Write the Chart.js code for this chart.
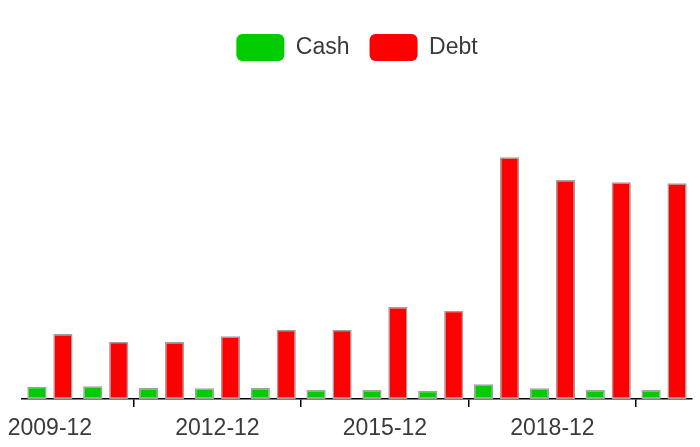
<!DOCTYPE html>
<html>
<head>
<meta charset="utf-8">
<script src="https://cdn.jsdelivr.net/npm/chart.js@4/dist/chart.umd.min.js"></script>
<style>
  html, body { margin: 0; padding: 0; background: #fff; }
  #wrap { width: 700px; height: 447px; position: relative; }
</style>
</head>
<body>
<div id="wrap"><canvas id="chart"></canvas></div>
<script>
const years = ["2009-12", "2010-12", "2011-12", "2012-12", "2013-12", "2014-12",
  "2015-12", "2016-12", "2017-12", "2018-12", "2019-12", "2020-12"];
const cash = [1.23, 1.27, 1.1, 1.07, 1.1, 0.9, 0.9, 0.83, 1.47, 1.07, 0.9, 0.9];
const debt = [6.5, 5.73, 5.7, 6.27, 6.93, 6.93, 9.2, 8.83, 24.17, 21.9, 21.67, 21.57];

const FONT = "'Liberation Sans', Arial, Helvetica, sans-serif";
const TEXT = "#3a3a3a";
const LABEL_EVERY = 3;

const barStyle = {
  borderColor: "#a0a0a0",
  borderWidth: 1.5,
  borderSkipped: false,
  categoryPercentage: 0.93,
  barPercentage: 0.74,
};

new Chart(document.getElementById("chart"), {
  type: "bar",
  data: {
    labels: years,
    datasets: [
      { label: "Cash", data: cash, backgroundColor: "#00cc00", ...barStyle },
      { label: "Debt", data: debt, backgroundColor: "#ff0000", ...barStyle },
    ],
  },
  options: {
    responsive: true,
    maintainAspectRatio: false,
    animation: false,
    layout: { padding: { left: 22, right: 8, top: 14, bottom: -3 } },
    plugins: {
      tooltip: { enabled: false },
      legend: {
        position: "top",
        labels: {
          font: { family: FONT, size: 23 },
          color: TEXT,
          boxWidth: 48,
          boxHeight: 27,
          useBorderRadius: true,
          borderRadius: 6,
          padding: 20,
          generateLabels(chart) {
            const items = Chart.defaults.plugins.legend.labels.generateLabels(chart);
            items.forEach((it) => {
              it.strokeStyle = it.fillStyle;
              it.lineWidth = 0;
            });
            return items;
          },
        },
      },
    },
    scales: {
      x: {
        // first label may hang past the plot edge, like the original
        afterFit: (scale) => {
          scale.paddingLeft = 0;
        },
        border: { display: true, color: "#000", width: 1.5 },
        grid: {
          display: true,
          drawOnChartArea: false,
          drawTicks: true,
          tickLength: 8,
          lineWidth: 1.5,
          // tick mark between label groups only
          color: (ctx) =>
            ctx.index !== undefined && ctx.index % LABEL_EVERY === LABEL_EVERY - 1
              ? "#000"
              : "rgba(0,0,0,0)",
        },
        ticks: {
          font: { family: FONT, size: 23, lineHeight: 1.0 },
          color: TEXT,
          maxRotation: 0,
          autoSkip: false,
          padding: 10,
          callback: (val, i) => (i % LABEL_EVERY === 0 ? years[i] : ""),
        },
      },
      y: {
        display: false,
        beginAtZero: true,
        max: 32.8,
      },
    },
  },
});
</script>
</body>
</html>
